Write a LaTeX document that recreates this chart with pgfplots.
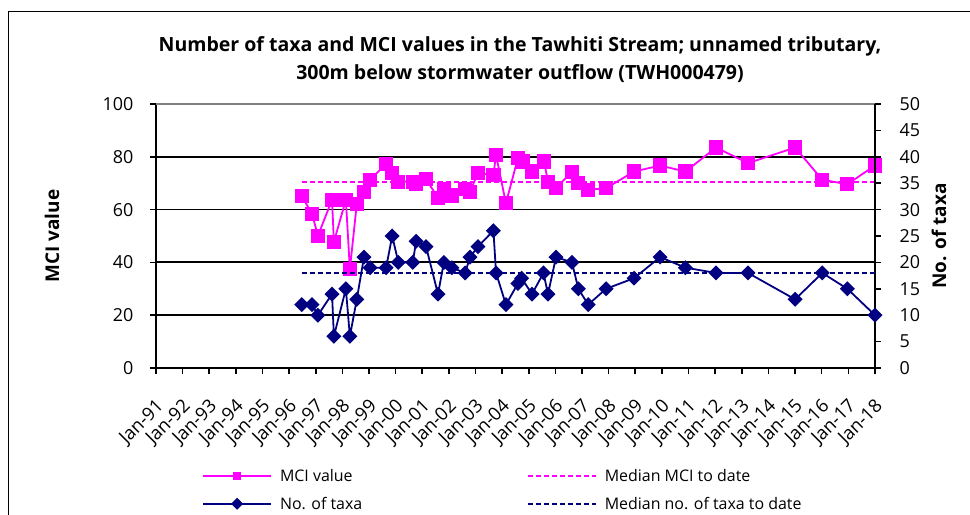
\documentclass[border=0pt]{standalone}
\usepackage{fontspec}
\setmainfont{Open Sans}
\usepackage{pgfplots}
\pgfplotsset{compat=1.18}

\definecolor{mciPink}{HTML}{FF00FF}
\definecolor{taxaNavy}{HTML}{000080}

\begin{document}
\begin{tikzpicture}[x=1bp,y=1bp]
\useasboundingbox (0,0) rectangle (970,515);
\draw[line width=1bp] (8,0) -- (8,503) -- (970,503);

\node[align=center, font=\fontsize{19.6}{28}\selectfont\bfseries] at (520,455)
  {Number of taxa and MCI values in the Tawhiti Stream; unnamed tributary,\\
   300m below stormwater outflow (TWH000479)};

\pgfplotsset{
  base/.style={
    at={(156bp,147bp)}, anchor=south west,
    scale only axis, width=719bp, height=264bp,
    xmin=1991, xmax=2018,
    tick label style={font=\fontsize{18}{20}\selectfont},
    /pgf/number format/assume math mode=true,
    label style={font=\fontsize{19}{22}\selectfont\bfseries},
    axis line style={line width=1.8bp},
    tick style={line width=1.6bp, black},
    tick align=outside,
    major tick length=6bp,
  },
}

\begin{axis}[base,
  axis x line*=bottom, axis y line*=left,
  ymin=0, ymax=100, ytick={0,20,...,100},
  yticklabel style={xshift=-13bp},
  ymajorgrids, major grid style={black, line width=1.8bp},
  xtick={1991,...,2018},
  xticklabels={Jan-91,Jan-92,Jan-93,Jan-94,Jan-95,Jan-96,Jan-97,Jan-98,Jan-99,Jan-00,Jan-01,Jan-02,Jan-03,Jan-04,Jan-05,Jan-06,Jan-07,Jan-08,Jan-09,Jan-10,Jan-11,Jan-12,Jan-13,Jan-14,Jan-15,Jan-16,Jan-17,Jan-18},
  xticklabel style={font=\fontsize{18.5}{20}\selectfont, yshift=-22bp, xshift=-1bp, rotate=45, anchor=north east, inner sep=1bp},
  ylabel={MCI value},
  ylabel style={at={(axis description cs:-0.1446,0.5)}, anchor=center},
  clip=false,
  legend columns=2,
  legend cell align=left,
  legend style={draw=none, fill=none, font=\fontsize{16}{18}\selectfont,
    at={(axis description cs:0.064,-0.462)}, anchor=west, inner sep=0pt,
    row sep=10bp, column sep=6bp,
    /tikz/every even column/.append style={column sep=163bp}},
  every legend image post/.style={mark size=3.3bp},
  legend image code/.code={\draw[mark repeat=2,mark phase=2,#1] plot coordinates {(0bp,0bp) (34bp,0bp) (68bp,0bp)};},
]
\addplot[mciPink, line width=1.8bp, mark=square*, mark size=6.2bp, mark options={solid, fill=mciPink}] coordinates {
 (1996.47,65.2) (1996.86,58.4) (1997.08,50.1) (1997.61,63.7) (1997.68,47.8)
 (1998.13,63.7) (1998.28,37.4) (1998.54,62.1) (1998.81,66.8) (1999.04,71.3)
 (1999.64,77.3) (1999.87,73.8) (2000.10,70.6) (2000.64,70.6) (2000.77,69.6)
 (2001.14,71.5) (2001.59,64.5) (2001.81,67.7) (2002.11,65.3) (2002.61,67.7)
 (2002.79,66.8) (2003.09,73.8) (2003.67,73.2) (2003.77,80.6) (2004.14,62.4)
 (2004.59,79.5) (2004.79,78.2) (2005.12,74.4) (2005.57,78.2) (2005.72,70.6)
 (2006.02,68.3) (2006.62,74.2) (2006.86,70.0) (2007.23,67.5) (2007.90,68.1)
 (2008.95,74.4) (2009.93,76.7) (2010.88,74.4) (2012.03,83.5) (2013.23,77.6)
 (2015.00,83.5) (2016.02,71.3) (2016.96,69.6) (2018.00,76.7)
};
\addlegendentry{MCI value}
\addplot[mciPink, line width=1.5bp, dash pattern=on 5bp off 3bp] coordinates {(1996.47,70.4) (2018,70.4)};
\addlegendentry{Median MCI to date}
\addlegendimage{taxaNavy, line width=1.8bp, mark=square*, mark options={solid, rotate=45, fill=taxaNavy}}
\addlegendentry{No. of taxa}
\addlegendimage{taxaNavy, line width=1.5bp, dash pattern=on 5bp off 3bp}
\addlegendentry{Median no. of taxa to date}
\draw[gray, line width=1.8bp] (axis cs:1991,100) -- (axis cs:2018,100);
\end{axis}

\begin{axis}[base,
  axis x line=none, axis y line*=right,
  ymin=0, ymax=50, ytick={0,5,...,50},
  yticklabel style={xshift=15bp},
  ylabel={No. of taxa},
  ylabel style={at={(axis description cs:1.089,0.5)}, anchor=center},
  clip=false,
]
\addplot[taxaNavy, line width=1.5bp, dash pattern=on 5bp off 3bp] coordinates {(1996.47,18) (2018,18)};
\addplot[taxaNavy, line width=1.8bp, mark=square*, mark size=4.4bp, mark options={solid, rotate=45, fill=taxaNavy}] coordinates {
 (1996.47,12) (1996.86,12) (1997.08,10) (1997.61,14) (1997.68,6)
 (1998.13,15) (1998.28,6) (1998.54,13) (1998.81,21) (1999.04,19)
 (1999.64,19) (1999.87,25) (2000.10,20) (2000.64,20) (2000.77,24)
 (2001.14,23) (2001.59,14) (2001.81,20) (2002.11,19) (2002.61,18)
 (2002.79,21) (2003.09,23) (2003.67,26) (2003.77,18) (2004.14,12)
 (2004.59,16) (2004.73,17) (2005.12,14) (2005.55,18) (2005.72,14)
 (2006.02,21) (2006.62,20) (2006.86,15) (2007.23,12) (2007.90,15)
 (2008.95,17) (2009.93,21) (2010.88,19) (2012.03,18) (2013.23,18)
 (2015.00,13) (2016.02,18) (2016.96,15) (2018.00,10)
};
\end{axis}
\end{tikzpicture}
\end{document}
